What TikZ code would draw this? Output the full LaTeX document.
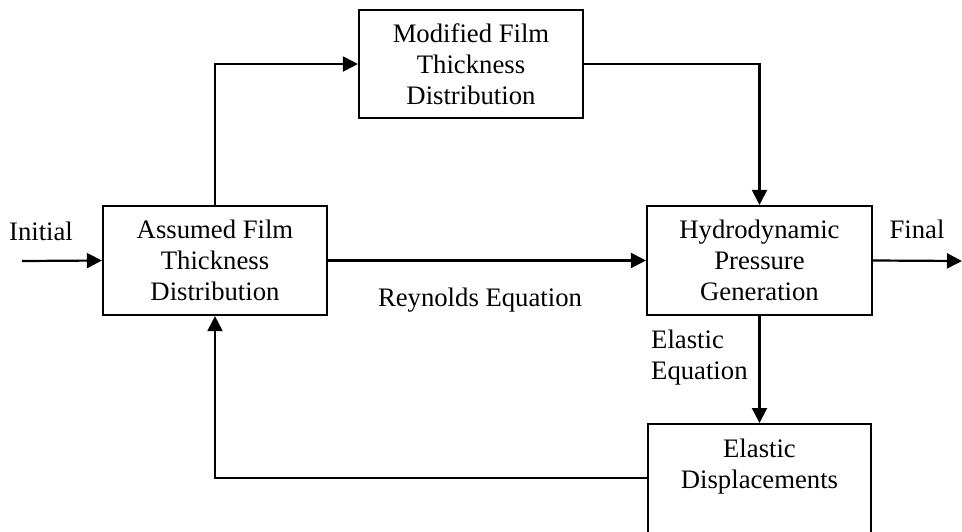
\documentclass[tikz,border=0pt]{standalone}
\usepackage{fontspec}
\setmainfont{Liberation Serif}
\usetikzlibrary{arrows.meta}
\begin{document}
\begin{tikzpicture}[x=1pt,y=-1pt,
  font=\fontsize{26.7}{31}\selectfont,
  every node/.style={text=black},
  blockbox/.style={draw=black, line width=2.2pt, rectangle, align=center, inner sep=0pt},
  arr/.style={draw=black, line width=2.2pt, -{Triangle[length=15pt,width=15pt]}},
  plainline/.style={draw=black, line width=2.2pt}]
\useasboundingbox (0,0) rectangle (962,531);
\clip (0,0) rectangle (962,531);
\node[blockbox, minimum width=224pt, minimum height=108pt] (mod) at (471,64) {Modified Film\\Thickness\\Distribution};
\node[blockbox, minimum width=224pt, minimum height=109pt] (assumed) at (215,260.5) {Assumed Film\\Thickness\\Distribution};
\node[blockbox, minimum width=225pt, minimum height=109pt] (hydro) at (759.5,260.5) {Hydrodynamic\\Pressure\\Generation};
\node[blockbox, minimum width=223pt, minimum height=150pt, anchor=north] (elas) at (759.5,423) {};
\node[anchor=north, align=center, inner sep=0pt] (elaslbl) at (759.5,438.8) {Elastic\\Displacements};
\coordinate (init) at (22,261);
\coordinate (final) at (962,261);
\node[anchor=base] (initlbl) at (41,240) {Initial};
\node[anchor=base] (finallbl) at (917,238) {Final};
\node[anchor=base] (reylbl) at (480,306) {Reynolds Equation};
\node[anchor=north west, align=left, inner sep=0pt] (elaseq) at (651,330) {Elastic\\Equation};
\draw[arr] (init) -- (assumed.west);
\draw[arr] (assumed.north) |- (mod.west);
\draw[arr] (mod.east) -| (hydro.north);
\draw[arr] (assumed.east) -- (hydro.west);
\draw[arr] (hydro.east) -- (final);
\draw[arr] (hydro.south) -- (elas.north);
\draw[arr] ([yshift=-55pt]elas.north west) -| (assumed.south);
\end{tikzpicture}
\end{document}
